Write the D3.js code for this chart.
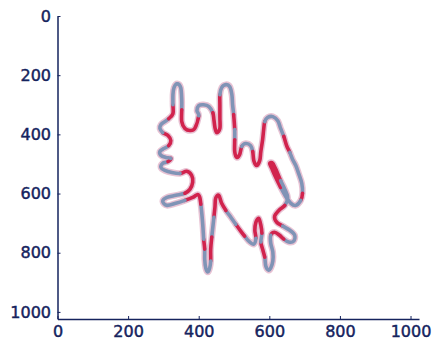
<!DOCTYPE html>
<html><head><meta charset="utf-8">
<script src="https://cdn.jsdelivr.net/npm/d3@7"></script>
<style>body{margin:0;background:#fff}</style></head>
<body><svg id="c" width="438" height="346"></svg>
<script>
const xTicks=[0,200,400,600,800,1000];
const yTicks=[0,200,400,600,800,1000];
const contourX=[339,349,352,352,352,361,375,389,400,395,
400,414,429,440,443,446,451,460,460,460,
460,465,477,488,494,496,499,502,502,502,
508,516,522,533,547,553,556,564,573,576,
581,584,587,595,610,624,632,641,649,658,
666,675,683,692,694,689,675,661,646,632,
618,607,601,610,621,632,644,652,644,627,
615,621,638,658,672,669,655,641,629,615,
604,604,610,610,604,598,590,587,581,576,
579,576,570,562,559,562,556,542,530,519,
505,491,477,465,457,448,446,443,440,437,
434,434,431,426,420,417,417,414,412,409,
406,403,397,383,361,335,310,298,310,335,
361,375,383,380,366,347,324,304,293,298,
313,321,307,293,290,301,315,321,313,298,
290,293,304,315,327,327,327,330];
const contourY=[229,242,283,317,357,380,387,380,337,320,
303,300,306,327,350,377,394,380,343,300,
266,242,232,239,266,300,333,384,418,458,
478,468,441,431,438,458,488,505,488,458,
418,384,357,343,340,354,380,407,438,461,
485,505,532,566,599,623,640,633,609,579,
545,515,498,498,525,556,586,613,640,657,
677,697,710,724,741,761,764,754,741,731,
741,768,798,828,852,859,845,815,788,764,
734,707,684,697,724,751,771,761,744,727,
704,680,657,633,606,616,646,680,714,747,
788,828,852,865,852,822,788,754,714,670,
636,613,603,613,623,633,640,626,613,606,
599,586,562,539,525,532,529,522,512,498,
492,481,478,471,458,448,438,421,404,394,
380,367,357,347,330,300,266,242];
// segment label: 1 = class A, 0 = class B
const segLabel=("gggrrrrrgg"+"gggrrrrrrr"+"ggggggrgrr"+"rrgggrrrrr"+"rrgggggrrg"+
"ggggrggggr"+"rrrrrgggrr"+"rrgggggrrr"+"gggggggrrg"+"rrrrrgggrr"+
"ggrrrrrggr"+"rgggggrggg"+"rrrrgggggg"+"rrrrrggggg"+"rgggggrrrg"+"gggrrggg").split("").map(c=>c==="r"?1:0);

const svg=d3.select("#c");
const x=d3.scaleLinear().domain([0,1024]).range([57.5,419]);
const y=d3.scaleLinear().domain([0,1024]).range([16,319]);
const color=d3.scaleOrdinal().domain([1,0]).range(["#d1234d","#8094b6"]);
const navy="#15235e";

const n=contourX.length;
const pts=contourX.map((v,i)=>[x(v),y(contourY[i])]);
const P=i=>pts[(i+n)%n];
function seg(path,i,move){
  const p0=P(i-1),p1=P(i),p2=P(i+1),p3=P(i+2);
  if(move) path.moveTo(p1[0],p1[1]);
  path.bezierCurveTo(p1[0]+(p2[0]-p0[0])/6,p1[1]+(p2[1]-p0[1])/6,
                     p2[0]-(p3[0]-p1[0])/6,p2[1]-(p3[1]-p1[1])/6,p2[0],p2[1]);
}
const hp=d3.path();
for(let i=0;i<n;i++) seg(hp,i,i===0);
hp.closePath();
svg.append("path").attr("d",hp.toString()).attr("fill","none")
  .attr("stroke","#e4b9cc").attr("stroke-width",6.5).attr("stroke-linejoin","round").attr("opacity",0.85);

let runs=[];let a=0;
for(let i=1;i<=n;i++){
  if(i===n||segLabel[i]!==segLabel[a]){runs.push([a,i-1,segLabel[a]]);a=i;}
}
svg.append("g").selectAll("path").data(runs).join("path")
  .attr("d",r=>{const p=d3.path();for(let i=r[0];i<=r[1];i++) seg(p,i,i===r[0]);return p.toString();})
  .attr("fill","none").attr("stroke",r=>color(r[2])).attr("stroke-width",3.6)
  .attr("stroke-linecap","round").attr("stroke-linejoin","round");

const fmt=d3.format("d");
const gx=svg.append("g").attr("transform",`translate(0,${y(1024)})`)
  .call(d3.axisBottom(x).tickValues(xTicks).tickFormat(fmt).tickSize(-3).tickSizeOuter(0).tickPadding(7));
const gy=svg.append("g").attr("transform",`translate(${x(0)},0)`)
  .call(d3.axisLeft(y).tickValues(yTicks).tickFormat(fmt).tickSize(-3).tickSizeOuter(0).tickPadding(6.5));
[gx,gy].forEach(g=>{
  g.select(".domain").attr("stroke",navy).attr("stroke-width",1.5);
  g.selectAll(".tick line").attr("stroke",navy).attr("stroke-width",1);
  g.selectAll(".tick text").attr("fill",navy).attr("stroke",navy).attr("stroke-width",0.45)
    .attr("font-family","DejaVu Sans").attr("font-size",16);
});
</script></body></html>
